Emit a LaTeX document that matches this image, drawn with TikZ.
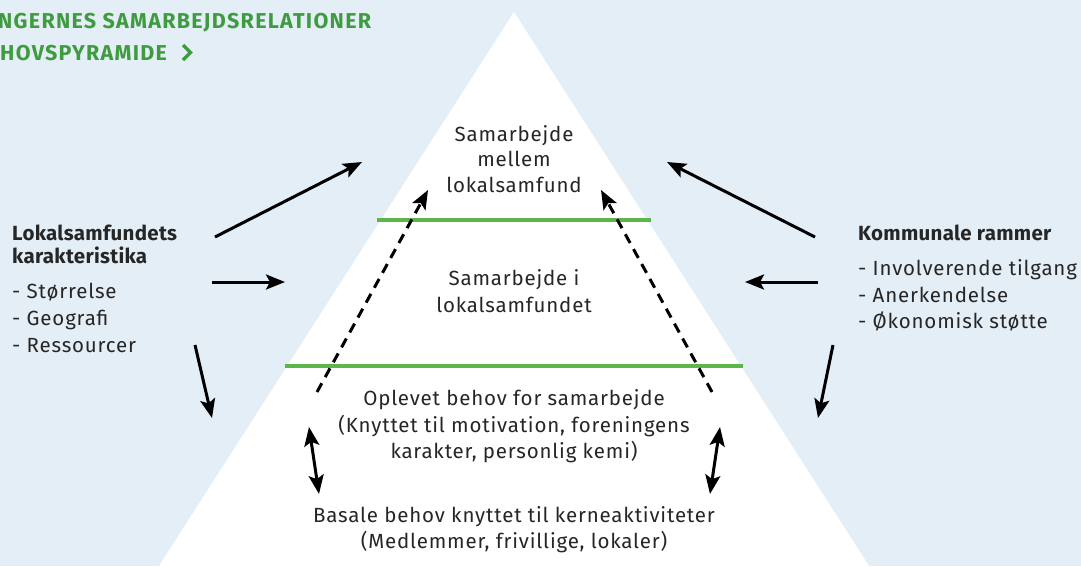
\documentclass[tikz,border=0pt]{standalone}
\usepackage{fontspec}
\setmainfont{Fira Sans}[LetterSpace=4, BoldFeatures={LetterSpace=1.5}]
\newfontfamily\ttlfont{Fira Sans}[BoldFeatures={LetterSpace=6}]
\usetikzlibrary{arrows.meta}
\definecolor{bg}{HTML}{E4EEF7}
\definecolor{grn}{HTML}{5BB748}
\definecolor{ttl}{HTML}{3F9B3F}
\definecolor{txt}{HTML}{262626}
\begin{document}
\begin{tikzpicture}[x=1pt,y=-1pt,
  lbl/.style={anchor=base, inner sep=0pt, font=\fontsize{20.5}{24}\selectfont, text=txt},
  lbll/.style={lbl, anchor=base west},
  hdl/.style={lbll, font=\fontsize{20.5}{24}\selectfont\bfseries},
  ttlstyle/.style={anchor=base west, inner sep=0pt, font=\fontsize{21.5}{24}\selectfont\ttlfont\bfseries, text=ttl},
  tip/.tip={Stealth[length=19pt,width=15pt,inset=4pt]},
  arr/.style={line width=3pt, draw=black, -tip},
  darr/.style={line width=3pt, draw=black, tip-tip},
  dsh/.style={arr, dash pattern=on 10pt off 7pt},
  lvl/.style={draw=grn, line width=4pt}]
\fill[bg] (0,0) rectangle (1081,566);
\useasboundingbox (0,0) rectangle (1081,566);
% pyramid
\fill[white] (514,12) -- (159,566) -- (869,566) -- cycle;
\draw[lvl] (377,220) -- (651,220);
\draw[lvl] (285,366) -- (743,366);
% title
\node[ttlstyle] (t1) at (-2,28) {NGERNES SAMARBEJDSRELATIONER};
\node[ttlstyle] (t2) at (0,60) {HOVSPYRAMIDE};
\draw[ttl, line width=3.4pt, miter limit=10] (183,45) -- (190.5,52.5) -- (183,60);
% pyramid texts
\node[lbl] (a1) at (514,141) {Samarbejde};
\node[lbl] (a2) at (514,166) {mellem};
\node[lbl] (a3) at (514,192) {lokalsamfund};
\node[lbl] (b1) at (514,285) {Samarbejde i};
\node[lbl] (b2) at (514,312) {lokalsamfundet};
\node[lbl] (c1) at (514,405) {Oplevet behov for samarbejde};
\node[lbl] (c2) at (514,432) {(Knyttet til motivation, foreningens};
\node[lbl] (c3) at (514,458) {karakter, personlig kemi)};
\node[lbl] (d1) at (514,522) {Basale behov knyttet til kerneaktiviteter};
\node[lbl] (d2) at (514,548) {(Medlemmer, frivillige, lokaler)};
% left block
\node[hdl] (l1) at (12,240) {Lokalsamfundets};
\node[hdl] (l2) at (12,263) {karakteristika};
\node[lbll] (l3) at (12,298) {- Størrelse};
\node[lbll] (l4) at (12,325) {- Geografi};
\node[lbll] (l5) at (12,352) {- Ressourcer};
% right block
\node[hdl] (r1) at (858,240) {Kommunale rammer};
\node[lbll] (r2) at (858,275) {- Involverende tilgang};
\node[lbll] (r3) at (858,302) {- Anerkendelse};
\node[lbll] (r4) at (858,328) {- Økonomisk støtte};
% arrow endpoints
\coordinate (la1) at (215,237); \coordinate (la2) at (362,162);
\coordinate (lb1) at (212,282); \coordinate (lb2) at (285,282);
\coordinate (lc1) at (195,345); \coordinate (lc2) at (212,418);
\coordinate (ra1) at (815,237); \coordinate (ra2) at (667,162);
\coordinate (rb1) at (818,282); \coordinate (rb2) at (745,282);
\coordinate (rc1) at (833,345); \coordinate (rc2) at (818,418);
\coordinate (ld1) at (317,392); \coordinate (ld2) at (428,190);
\coordinate (rd1) at (712,392); \coordinate (rd2) at (601,190);
\coordinate (le1) at (309,427); \coordinate (le2) at (319,494);
\coordinate (re1) at (720,427); \coordinate (re2) at (710,494);
\draw[arr] (la1) -- (la2);
\draw[arr] (lb1) -- (lb2);
\draw[arr] (lc1) -- (lc2);
\draw[arr] (ra1) -- (ra2);
\draw[arr] (rb1) -- (rb2);
\draw[arr] (rc1) -- (rc2);
\draw[dsh] (ld1) -- (ld2);
\draw[dsh] (rd1) -- (rd2);
\draw[darr] (le1) -- (le2);
\draw[darr] (re1) -- (re2);
\end{tikzpicture}
\end{document}
